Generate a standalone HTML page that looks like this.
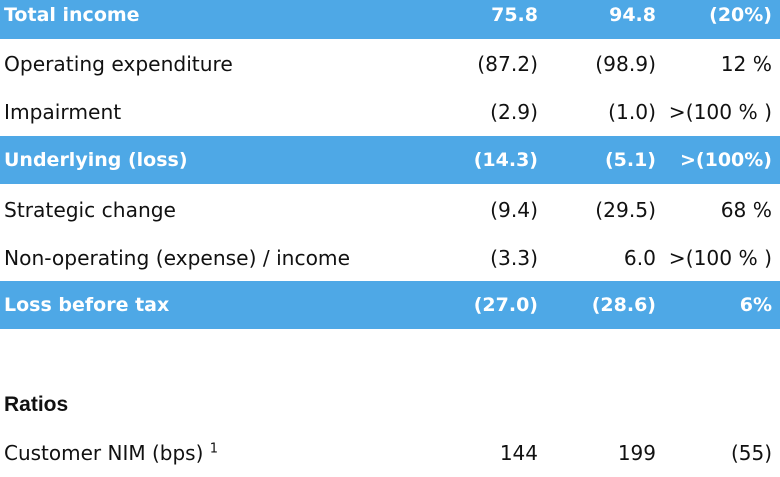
<!DOCTYPE html>
<html><head><style>
body{margin:0;width:780px;height:470px;background:#fff;overflow:hidden;font-family:"DejaVu Sans","Liberation Sans",sans-serif;position:relative}
.r{position:absolute;left:0;width:780px;height:48px;font-size:20.2px;color:#111}
.b{background:#4ea8e6;color:#fff;font-weight:bold;font-size:19px}
.r span{position:absolute;top:50%;transform:translateY(-50%);white-space:nowrap}
.l{left:4px}.c1{right:242px}.c2{right:124px}.c3{right:8px}
</style></head><body>
<div class="r b" style="top:-9px"><span class="l">Total income</span><span class="c1">75.8</span><span class="c2">94.8</span><span class="c3">(20%)</span></div>
<div class="r" style="top:40px"><span class="l">Operating expenditure</span><span class="c1">(87.2)</span><span class="c2">(98.9)</span><span class="c3">12 %</span></div>
<div class="r" style="top:88px"><span class="l">Impairment</span><span class="c1">(2.9)</span><span class="c2">(1.0)</span><span class="c3">&gt;(100 % )</span></div>
<div class="r b" style="top:136px"><span class="l">Underlying (loss)</span><span class="c1">(14.3)</span><span class="c2">(5.1)</span><span class="c3">&gt;(100%)</span></div>
<div class="r" style="top:186px"><span class="l">Strategic change</span><span class="c1">(9.4)</span><span class="c2">(29.5)</span><span class="c3">68 %</span></div>
<div class="r" style="top:234px"><span class="l">Non-operating (expense) / income</span><span class="c1">(3.3)</span><span class="c2">6.0</span><span class="c3">&gt;(100 % )</span></div>
<div class="r b" style="top:281px"><span class="l">Loss before tax</span><span class="c1">(27.0)</span><span class="c2">(28.6)</span><span class="c3">6%</span></div>
<div class="r" style="top:381px;font-family:'Liberation Sans',sans-serif;font-weight:bold;font-size:21px"><span class="l">Ratios</span></div>
<div class="r" style="top:429px;font-size:20px"><span class="l">Customer NIM (bps) <sup style="font-size:13px">1</sup></span><span class="c1">144</span><span class="c2">199</span><span class="c3">(55)</span></div>
</body></html>
